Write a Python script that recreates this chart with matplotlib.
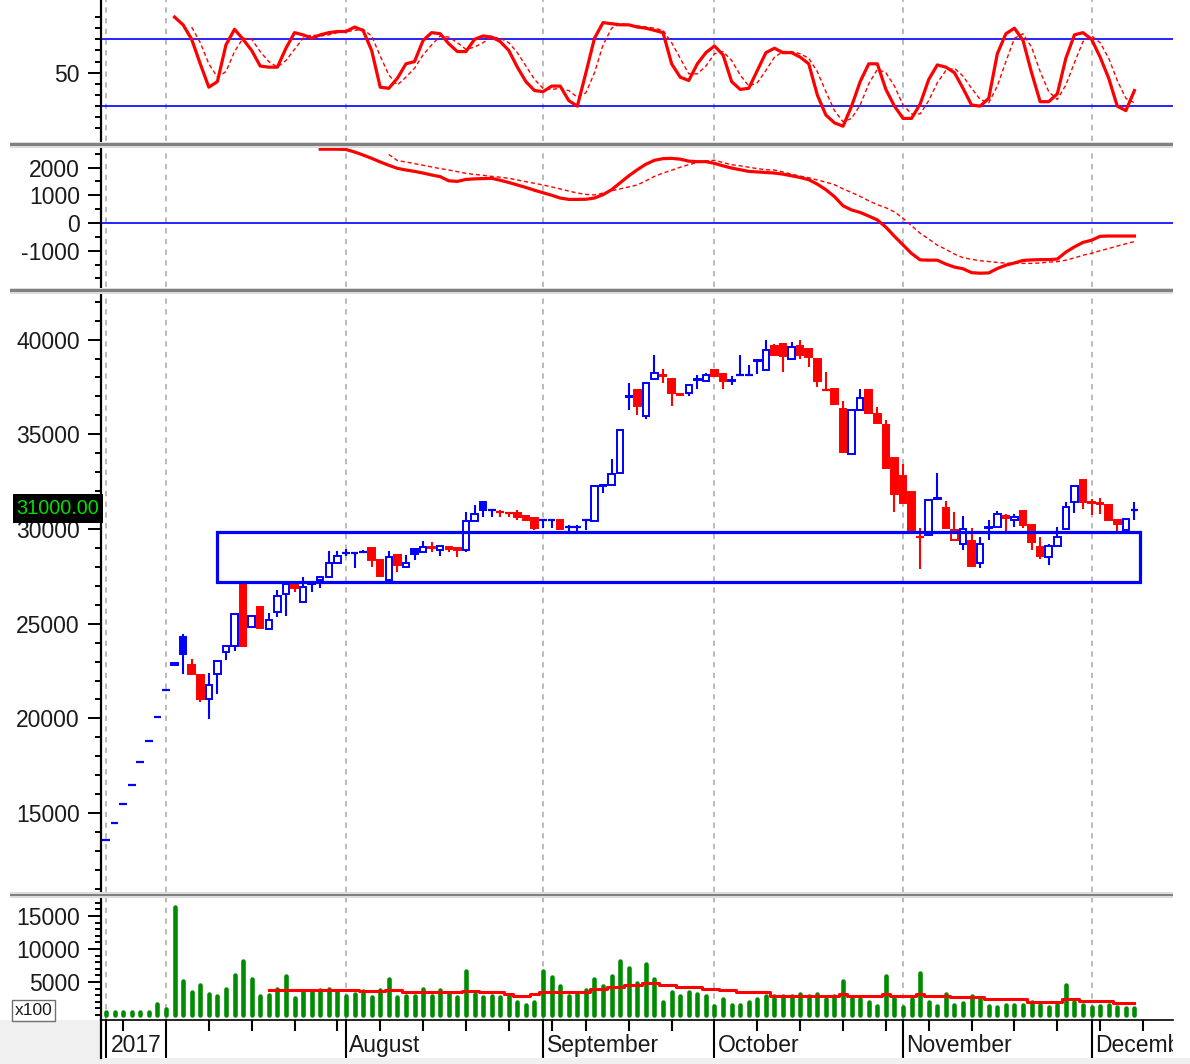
import matplotlib
matplotlib.use("Agg")
import matplotlib.pyplot as plt
from matplotlib.patches import Rectangle
import numpy as np

plt.rcParams['font.family'] = ['Liberation Sans', 'DejaVu Sans']
plt.rcParams['axes.unicode_minus'] = False

# ---------------- data (bar index 0 = first trading day) ----------------
opens = [13600, 14500, 15500, 16500, 17700, 18800, 20100, 21500, 22900, 24300,
         22800, 22300, 21000, 22350, 23500, 23800, 27100, 24800, 25900, 24700,
         25600, 26550, 27100, 26150, 27100, 27300, 27450, 28200, 28750, 28750,
         28800, 29000, 28350, 27300, 28650, 28000, 28950, 28800, 29050, 28900,
         29050, 29000, 28900, 30400, 31450, 31000, 30900, 30850, 30850, 30700,
         30600, 30450, 30450, 30450, 30100, 30100, 30450, 30400, 32250, 32300,
         32950, 36950, 37350, 35950, 37900, 38150, 37900, 37150, 37200, 37850,
         37800, 38400, 38200, 37800, 38150, 38150, 38850, 38400, 39650, 39750,
         39000, 39650, 39500, 39000, 37350, 37400, 36350, 33950, 36300, 37350,
         36050, 35500, 33750, 32800, 31950, 29600, 29700, 31600, 31100, 29400,
         29200, 29350, 28200, 30050, 30100, 30700, 30500, 30950, 30200, 29050,
         28500, 29100, 30000, 31450, 32600, 31400, 31350, 31250, 30500, 29950,
         31000]
highs = [13600, 14500, 15500, 16500, 17700, 18800, 20100, 21500, 22900, 24450,
         23150, 22300, 22400, 23050, 23800, 25500, 27100, 25400, 25900, 25550,
         26800, 27100, 27150, 27450, 27200, 27450, 28850, 28850, 28950, 28750,
         28900, 29000, 28350, 28850, 28650, 28650, 28950, 29350, 29300, 29100,
         29050, 29000, 30900, 31250, 31450, 31000, 31000, 30900, 31000, 30750,
         30600, 30450, 30450, 30450, 30200, 30200, 30450, 32250, 32400, 33700,
         35250, 37700, 37350, 37700, 39200, 38450, 37900, 37150, 37600, 38150,
         38250, 38400, 38250, 38100, 39200, 38650, 39000, 40000, 39750, 39800,
         39900, 40000, 39500, 39000, 38300, 37400, 36750, 36300, 37400, 37350,
         36450, 35750, 33800, 33450, 31950, 30050, 31550, 32950, 31500, 30900,
         30700, 30050, 29600, 30500, 30950, 30800, 30800, 30950, 30200, 29600,
         29200, 30100, 31400, 32300, 32600, 31600, 31650, 31300, 30500, 30550,
         31450]
lows = [13600, 14500, 15500, 16500, 17700, 18800, 20100, 21500, 22800, 22350,
        22350, 20850, 19950, 21300, 23100, 23550, 23800, 24800, 24750, 24700,
        25350, 25400, 26650, 26150, 26650, 26900, 27450, 28200, 28600, 27950,
        28750, 28000, 27500, 27300, 27750, 28000, 28350, 28800, 28800, 28550,
        28800, 28500, 28800, 30400, 30650, 30650, 30650, 30650, 30500, 30450,
        29950, 30050, 30050, 30000, 29900, 29900, 29950, 30400, 31900, 32300,
        32900, 36300, 36000, 35800, 37900, 37700, 36500, 37000, 37000, 37400,
        37800, 38100, 37400, 37600, 38150, 38150, 38200, 38400, 39200, 38300,
        38900, 39000, 38550, 37500, 37350, 36550, 34050, 33950, 36300, 36100,
        35600, 33200, 30900, 31350, 29950, 27900, 29650, 31600, 30050, 29400,
        28900, 28000, 27950, 29400, 30100, 29900, 30100, 30050, 28900, 28400,
        28100, 29100, 30000, 30850, 31050, 30750, 30800, 30500, 29900, 29950,
        30500]
closes = [13600, 14500, 15500, 16500, 17700, 18800, 20100, 21500, 22800, 23400,
          22350, 21050, 21750, 23050, 23800, 25500, 23800, 25400, 24750, 25200,
          26450, 27100, 26900, 26950, 27150, 27450, 28200, 28550, 28750, 28750,
          28800, 28350, 27500, 28500, 28100, 28200, 28700, 29050, 29000, 29100,
          28950, 28900, 30400, 30800, 31000, 31000, 30900, 30850, 30650, 30500,
          30050, 30450, 30450, 30000, 30100, 30100, 30450, 32250, 32300, 32900,
          35250, 37000, 36500, 37700, 38250, 38100, 37200, 37050, 37600, 37900,
          38150, 38100, 37800, 37850, 38150, 38150, 38900, 39450, 39200, 39150,
          39600, 39200, 39100, 37800, 37350, 36600, 34050, 36300, 36900, 36100,
          35600, 33200, 31850, 31350, 29950, 29600, 31550, 31650, 30050, 29950,
          30000, 28050, 29200, 30100, 30800, 30600, 30650, 30200, 29300, 28550,
          29100, 29600, 31150, 32250, 31400, 31350, 31300, 30500, 30250, 30550,
          31000]
volume = [400, 400, 400, 400, 400, 400, 1600, 900, 16400, 5200,
          3500, 4500, 3200, 2900, 4000, 6000, 8200, 5400, 2900, 3100,
          4000, 5900, 2600, 3700, 3500, 3800, 4000, 3700, 2900, 3200,
          3700, 2700, 3800, 5400, 2800, 2900, 2900, 3900, 2900, 3800,
          3200, 2700, 6600, 3200, 2700, 2900, 2700, 2900, 2000, 1500,
          2000, 6600, 5700, 4400, 2900, 3200, 3800, 5400, 4400, 5900,
          8200, 7100, 4900, 7700, 5400, 2000, 3500, 2900, 3500, 3200,
          2900, 1400, 2400, 1500, 1500, 2000, 2400, 2900, 2900, 2900,
          2900, 3200, 2900, 3200, 2400, 2900, 5200, 2500, 2400, 2000,
          1400, 5900, 2800, 1200, 2400, 6300, 2000, 1400, 3200, 1500,
          1800, 2900, 2400, 1400, 1200, 1500, 1500, 1500, 2000, 1500,
          1200, 1500, 4500, 2000, 1500, 1200, 1400, 1500, 1200, 1100,
          1100]
vol_ma_start = 19
vol_ma = [3790, 3790, 3790, 3790, 3790, 3790, 3790, 3790, 3790, 3790, 3790,
          3570, 3570, 3570, 3790, 3790,
          3430, 3430, 3430, 3430, 3430, 3430, 3430, 3700, 3700, 3430, 3430, 3430,
          3180, 2880, 2880, 3180, 3535, 3535, 3535, 3535, 3535, 3535,
          3890, 3890, 4190, 4190, 4545, 4545, 4900, 4900, 4545, 4545,
          4290, 4290, 4290, 3890, 3890, 3790, 3790, 3430, 3430, 3430, 3430,
          2880, 2880, 2880, 2880, 2880, 2880, 2880, 2880, 3180, 2880, 2880, 2880, 2880,
          3180, 2880, 2880, 2880, 3180, 2880, 2880, 2880, 2676, 2676, 2676, 2676,
          2373, 2373, 2373, 2373, 2373, 2020, 2020, 2020, 2020, 2373, 2373,
          2120, 2120, 2120, 2120, 1770, 1770, 1770]
stoch_k_start = 8
stoch_k = [100, 93, 80, 58, 37, 42, 75, 89, 80, 70,
           56, 55, 55, 72, 86, 84, 81, 84, 86, 87,
           87, 91, 88, 70, 37, 36, 45, 58, 60, 79,
           86, 85, 76, 69, 69, 80, 83, 82, 78, 70,
           55, 42, 34, 33, 38, 38, 25, 20, 50, 81,
           95, 94, 93, 93, 91, 90, 88, 86, 58, 46,
           43, 58, 68, 74, 66, 42, 35, 36, 52, 68,
           72, 68, 68, 64, 58, 30, 12, 5, 2, 20,
           42, 58, 58, 35, 20, 9, 9, 22, 44, 57,
           55, 50, 36, 21, 20, 27, 67, 85, 90, 79,
           50, 24, 24, 31, 63, 84, 86, 80, 64, 45,
           20, 16, 34]
stoch_d_start = 10
stoch_d = [91, 77, 58, 46, 51, 69, 81, 80, 69, 60,
           55, 61, 71, 81, 84, 83, 84, 86, 87, 88,
           89, 83, 65, 48, 39, 46, 54, 66, 75, 83,
           82, 77, 71, 73, 77, 82, 81, 77, 68, 56,
           44, 36, 35, 36, 34, 28, 32, 50, 75, 90,
           94, 93, 92, 91, 90, 88, 77, 63, 49, 49,
           56, 67, 69, 61, 48, 38, 41, 52, 64, 69,
           69, 67, 63, 51, 33, 16, 6, 9, 21, 40,
           53, 50, 38, 21, 13, 13, 25, 41, 52, 54,
           47, 36, 26, 23, 38, 60, 81, 85, 73, 51,
           33, 26, 39, 59, 78, 83, 77, 63, 43, 27,
           23]
macd_start = 25
macd = [2660, 2660, 2660, 2650, 2560, 2450, 2330, 2200, 2080, 1970,
        1910, 1860, 1800, 1730, 1670, 1520, 1500, 1570, 1590, 1600,
        1610, 1540, 1460, 1370, 1280, 1180, 1090, 1000, 900, 850,
        850, 855, 900, 1020, 1200, 1450, 1700, 1920, 2120, 2260,
        2320, 2330, 2300, 2230, 2210, 2210, 2150, 2060, 1980, 1920,
        1860, 1840, 1820, 1800, 1760, 1700, 1640, 1560, 1400, 1200,
        950, 620, 470, 380, 250, 110, -150, -480, -790, -1100,
        -1330, -1340, -1340, -1480, -1590, -1650, -1790, -1810, -1800, -1640,
        -1520, -1440, -1350, -1330, -1320, -1320, -1300, -1050, -860, -700,
        -620, -480, -470, -470, -470, -470]
signal_start = 33
signal = [2470, 2250, 2200, 2140, 2080, 2020, 1960, 1910, 1850, 1790,
          1750, 1720, 1680, 1650, 1610, 1550, 1490, 1430, 1370, 1300,
          1230, 1150, 1080, 1030, 1010, 1080, 1160, 1230, 1300, 1370,
          1520, 1680, 1800, 1900, 2010, 2100, 2180, 2240, 2260, 2180,
          2100, 2060, 2010, 1960, 1920, 1910, 1840, 1760, 1690, 1630,
          1550, 1470, 1380, 1230, 1100, 960, 800, 660, 550, 400,
          170, -100, -370, -580, -800, -950, -1120, -1250, -1310, -1360,
          -1390, -1420, -1450, -1455, -1455, -1455, -1440, -1410, -1395, -1340,
          -1260, -1160, -1090, -1000, -920, -830, -750, -670]

month_idx = [0, 7, 28, 51, 71, 93, 115]
month_labels = ["2017", "", "August", "September", "October", "November", "December"]
week_idx = [2, 12, 17, 22, 27, 32, 37, 42, 47, 52, 56, 61, 66, 76, 81, 86, 91, 96,
            101, 106, 111, 116, 121]
zone_x = (12.95, 120.65)
zone_y = (27200, 29850)
last_price = 31000

# ---------------- layout ----------------
W, H = 1190, 1064
fig = plt.figure(figsize=(W / 100, H / 100), dpi=100)
BLUE, RED, GREEN = '#0000ff', '#ff0000', '#008c00'
TXT = '#1a1a1a'
XL = (-0.58, 124.5)


def ax_at(x0, y0, x1, y1, **kw):
    return fig.add_axes([x0 / W, 1 - y1 / H, (x1 - x0) / W, (y1 - y0) / H], **kw)


bg = ax_at(0, 0, W, H, zorder=-5)
bg.set_xlim(0, W); bg.set_ylim(H, 0); bg.axis('off')
bg.add_patch(Rectangle((0, 1020), 101, 44, fc='#f0f0f0', ec='none'))
bg.add_patch(Rectangle((0, 1058), W, 6, fc='#f0f0f0', ec='none'))

ax1 = ax_at(101, 0, 1173, 141)
ax2 = ax_at(101, 147, 1173, 287)
ax3 = ax_at(101, 293, 1173, 892)
ax4 = ax_at(101, 898, 1173, 1020)
axt = ax_at(101, 1020, 1173, 1058)

for ax in (ax1, ax2, ax3, ax4):
    ax.set_xlim(*XL)
    for s in ('top', 'right', 'bottom'):
        ax.spines[s].set_visible(False)
    ax.spines['left'].set_linewidth(1.6)
    ax.set_xticks([])
    ax.tick_params(axis='y', which='major', length=9.4, width=1.4, pad=5.8,
                   labelsize=16.5, labelcolor=TXT, direction='out')
    ax.tick_params(axis='y', which='minor', length=4.3, width=1.4, direction='out')
    for m in month_idx:
        ax.axvline(m, color='#a8a8a8', lw=1.1, ls=(0, (3.5, 3.5)), zorder=0)

# Stochastic
ax1.set_ylim(-11.3, 115.3)
ax1.set_yticks([50], labels=['50'])
ax1.set_yticks([0, 10, 20, 30, 40, 60, 70, 80, 90, 100], minor=True)
ax1.axhline(80, color=BLUE, lw=1.2, zorder=1)
ax1.axhline(20, color=BLUE, lw=1.2, zorder=1)
ax1.plot(range(stoch_d_start, stoch_d_start + len(stoch_d)), stoch_d, color=RED,
         lw=1.0, ls=(0, (3, 2)), zorder=2)
ax1.plot(range(stoch_k_start, stoch_k_start + len(stoch_k)), stoch_k, color=RED,
         lw=2.3, zorder=3)

# MACD
ax2.set_ylim(-2307, 2739)
ax2.set_yticks([-1000, 0, 1000, 2000], labels=['-1000', '0', '1000', '2000'])
ax2.set_yticks([-2000, -1500, -500, 500, 1500, 2500], minor=True)
ax2.axhline(0, color=BLUE, lw=1.2, zorder=1)
ax2.plot(range(signal_start, signal_start + len(signal)), signal, color=RED,
         lw=1.0, ls=(0, (3, 2)), zorder=2)
ax2.plot(range(macd_start, macd_start + len(macd)), macd, color=RED, lw=2.3, zorder=3)

# Price candles
ax3.set_ylim(10834, 42461)
pt = [15000, 20000, 25000, 30000, 35000, 40000]
ax3.set_yticks(pt, labels=[str(v) for v in pt])
ax3.set_yticks([v for v in range(11000, 42001, 1000) if v not in pt], minor=True)
for i in range(len(closes)):
    o, h, l, c = opens[i], highs[i], lows[i], closes[i]
    prev = closes[i - 1] if i > 0 else c
    col = BLUE if c >= prev else RED
    if h > l:
        ax3.vlines(i, l, h, color=col, lw=1.5, zorder=2)
    if c == o:
        ax3.hlines(c, i - 0.45, i + 0.45, color=col, lw=1.6, zorder=3)
    else:
        filled = c < o
        ax3.add_patch(Rectangle((i - 0.38, min(o, c)), 0.76, abs(c - o),
                                fc=col if filled else 'white', ec=col, lw=1.4, zorder=3))
ax3.add_patch(Rectangle((zone_x[0], zone_y[0]), zone_x[1] - zone_x[0],
                        zone_y[1] - zone_y[0], fill=False, ec=BLUE, lw=2.3, zorder=4))

# Volume
ax4.set_ylim(-758, 17725)
vt = [5000, 10000, 15000]
ax4.set_yticks(vt, labels=[str(v) for v in vt])
ax4.set_yticks([v for v in range(0, 17001, 1000) if v not in vt], minor=True)
vl = ax4.vlines(range(len(volume)), 0, volume, color=GREEN, lw=3.3, zorder=2)
vl.set_capstyle('round')
ax4.plot(range(vol_ma_start, vol_ma_start + len(vol_ma)), vol_ma, color=RED, lw=2.2,
         drawstyle='steps-mid', zorder=3)

# Time axis
axt.set_xlim(*XL); axt.set_ylim(0, 1)
axt.set_xticks([]); axt.set_yticks([])
for s in ('right', 'bottom'):
    axt.spines[s].set_visible(False)
axt.spines['top'].set_linewidth(1.2)
axt.spines['left'].set_linewidth(1.6)
axt.vlines(month_idx, 0, 1, color='black', lw=1.5)
axt.vlines(week_idx, 0.72, 1, color='black', lw=1.5)
for m, lab in zip(month_idx, month_labels):
    if lab:
        axt.text(m + (0.58 if m == 0 else 0.4), 0.32, lab, fontsize=16.5, color=TXT,
                 ha='left', va='center', clip_on=True)

# Overlay: separators and boxes
ov = ax_at(0, 0, W, H, zorder=10)
ov.set_xlim(0, W); ov.set_ylim(H, 0); ov.axis('off'); ov.patch.set_alpha(0)
for y0 in (141.5, 287.5, 892):
    ov.add_patch(Rectangle((10, y0), 1163, 6, fc='#dcdcdc', ec='none'))
    ov.add_patch(Rectangle((10, y0 + 1.8), 1163, 2.5, fc='#808080', ec='none'))
ov.add_patch(Rectangle((13, 494), 90, 29, fc='black', ec='none'))
ov.text(58, 509, f"{last_price:.2f}", color='#00e000', fontsize=14.3, ha='center', va='center')
ov.add_patch(Rectangle((12, 1000), 43, 21, fc='white', ec='#707070', lw=1))
ov.text(33.5, 1010.5, "x100", color=TXT, fontsize=12.5, ha='center', va='center')

fig.savefig("out.png", dpi=100, facecolor='white')
